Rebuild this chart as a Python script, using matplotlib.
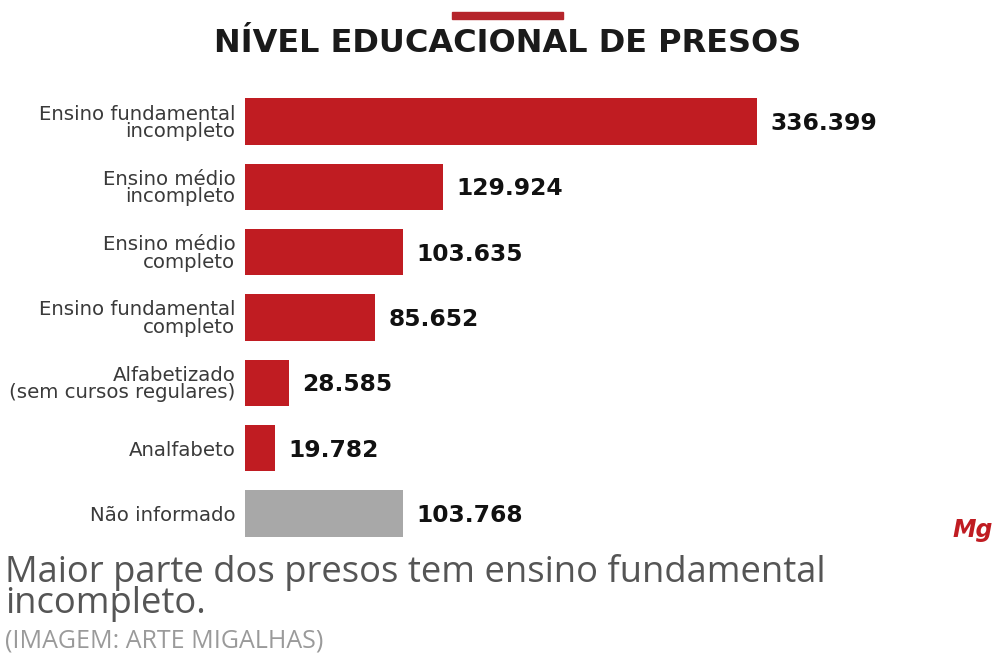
import matplotlib.pyplot as plt

# data
categories = ["Ensino fundamental\nincompleto", "Ensino médio\nincompleto", "Ensino médio\ncompleto",
              "Ensino fundamental\ncompleto", "Alfabetizado\n(sem cursos regulares)", "Analfabeto",
              "Não informado"]
values = [336399, 129924, 103635, 85652, 28585, 19782, 103768]
value_labels = ["336.399", "129.924", "103.635", "85.652", "28.585", "19.782", "103.768"]
bar_colors = ["#c01c22"] * 6 + ["#a8a8a8"]

fig = plt.figure(figsize=(9.95, 6.57), dpi=100)
ax = fig.add_axes([245 / 995, 1 - 546 / 657, 750 / 995, 457 / 657])

pos = list(range(len(values)))
ax.barh(pos, values, height=0.71, color=bar_colors)
ax.set_ylim(6.5, -0.5)
ax.set_xlim(0, 492800)

for p, v, lab in zip(pos, values, value_labels):
    ax.text(v + 9000, p + 0.03, lab, va="center", ha="left", fontsize=16.8, fontweight="bold",
            family="DejaVu Sans", color="#111111")

ax.set_yticks(pos)
ax.set_yticklabels(categories, fontsize=14.2, color="#3a3a3a", family="DejaVu Sans",
                   linespacing=0.9, ha="right")
ax.tick_params(axis="y", length=0, pad=7)
ax.set_xticks([])
for s in ax.spines.values():
    s.set_visible(False)

# title and small red bar above it
fig.patches.append(plt.Rectangle((452 / 995, 1 - 19 / 657), 111 / 995, 7 / 657,
                                 transform=fig.transFigure, color="#b5252b"))
fig.text(508 / 995, 1 - 44 / 657, "NÍVEL EDUCACIONAL DE PRESOS", ha="center", va="center",
         fontsize=23, fontweight="bold", family="DejaVu Sans", color="#1a1a1a")

# logo
fig.text(973 / 995, 1 - 530 / 657, "Mg", ha="center", va="center", fontsize=17,
         fontweight="bold", style="italic", family="DejaVu Sans", color="#c01c22")

# caption below
fig.text(5 / 995, 1 - 588 / 657, "Maior parte dos presos tem ensino fundamental\nincompleto.",
         ha="left", va="center", fontsize=26.2, family="Open Sans", color="#555555",
         linespacing=0.83)
fig.text(5 / 995, 1 - 641 / 657, "(IMAGEM: ARTE MIGALHAS)", ha="left", va="center",
         fontsize=18, family="Open Sans", color="#9a9a9a")

fig.savefig("out.png", dpi=100)
